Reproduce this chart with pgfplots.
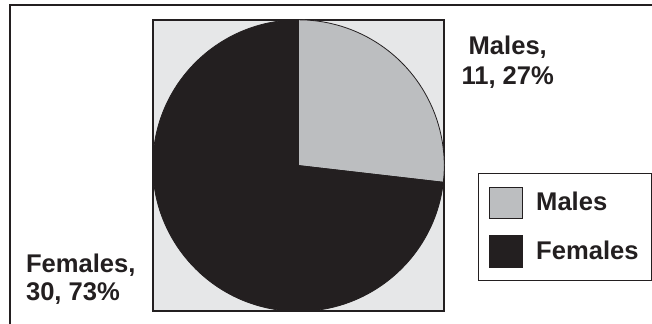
\documentclass[border=0pt]{standalone}
\usepackage{pgfplots}
\usepackage{pgfplotstable}
\pgfplotsset{compat=1.18}
\usepackage{fontspec}
\setmainfont{Liberation Sans}
\definecolor{dark}{HTML}{231F20}
\definecolor{bggray}{HTML}{E6E7E8}
\definecolor{malegray}{HTML}{BCBEC0}
\pgfplotstableread{
label value
Males 11
Females 30
}\piedata
\begin{document}
\pgfplotstablegetelem{0}{value}\of\piedata \let\vM\pgfplotsretval
\pgfplotstablegetelem{1}{value}\of\piedata \let\vF\pgfplotsretval
\pgfmathsetmacro\aM{360*\vM/(\vM+\vF)}
\pgfmathsetmacro\endM{90-\aM}
\begin{tikzpicture}[x=1pt,y=1pt]
\useasboundingbox (0,0) rectangle (652,326);
\clip (0,0) rectangle (652,326);
% outer frame (cropped at right and bottom)
\draw[dark, line width=2pt] (5,-5) -- (5,320.5) -- (660,320.5);
\begin{axis}[
  at={(148.5pt,12pt)}, anchor=south west,
  scale only axis, width=294pt, height=294pt,
  xmin=-1, xmax=1, ymin=-1, ymax=1,
  xtick=\empty, ytick=\empty,
  axis line style={dark, line width=2pt},
  axis background/.style={fill=bggray},
  clip=false,
]
\fill[malegray, draw=dark, line width=0.8pt] (axis cs:0,0) -- (axis cs:0,1)
  arc[start angle=90, end angle=\endM, radius=147pt] -- cycle;
\fill[dark, draw=dark, line width=0.8pt] (axis cs:0,0) -- (axis cs:{cos(\endM)},{sin(\endM)})
  arc[start angle=\endM, end angle=-270, radius=147pt] -- cycle;
\end{axis}
% data labels
\begin{scope}[every node/.style={inner sep=0pt, font=\fontsize{25.8}{30}\selectfont\bfseries, text=dark}]
\node[anchor=base] at (506.5,271) {Males,};
\node[anchor=base] at (506.5,241) {11, 27\%};
\node[anchor=base west] at (20.5,51) {Females,};
\node[anchor=base west] at (20.5,23) {30, 73\%};
% legend
\draw[dark, line width=1.5pt, fill=white] (477,43) rectangle (651.3,151);
\filldraw[fill=malegray, draw=dark, line width=0.8pt] (488.5,105.5) rectangle (521.5,137.5);
\fill[dark] (488,56) rectangle (522,89);
\node[anchor=base west] at (535,114) {Males};
\node[anchor=base west] at (535,64) {Females};
\end{scope}
\end{tikzpicture}
\end{document}
